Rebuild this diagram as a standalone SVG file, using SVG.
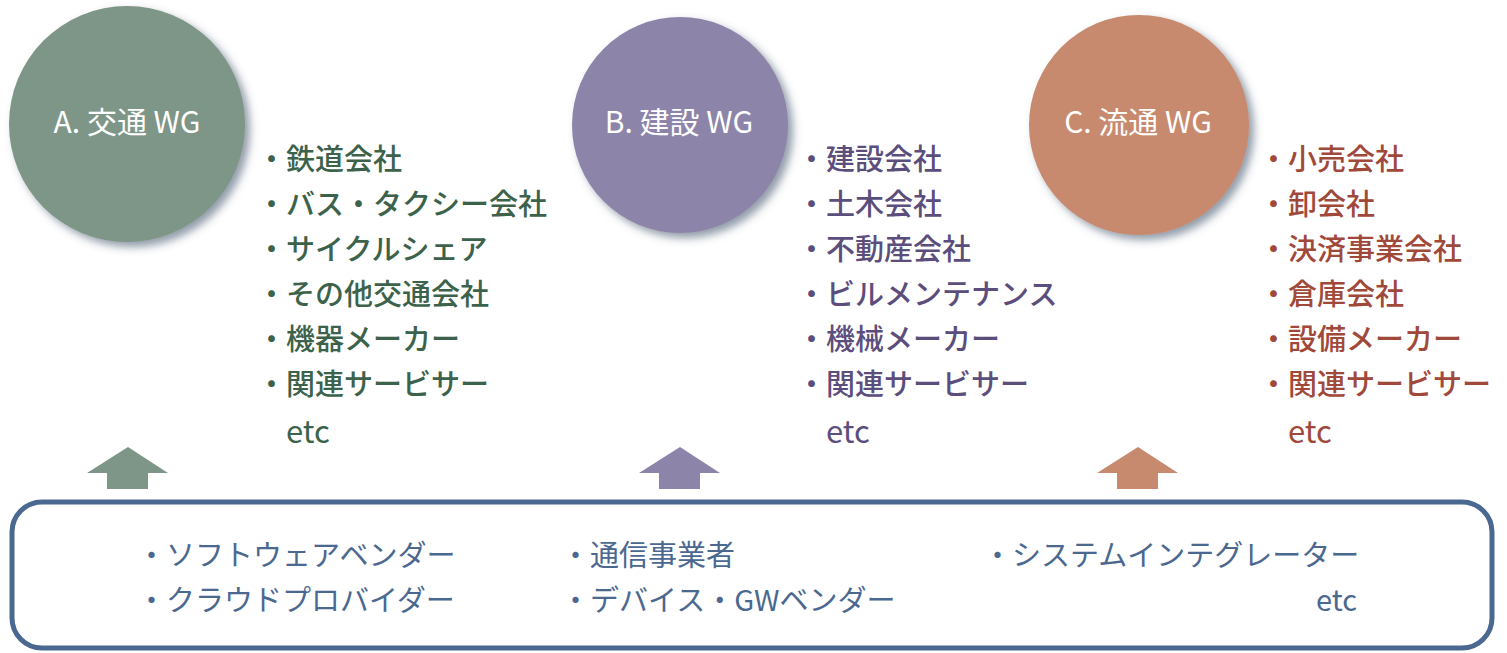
<svg xmlns="http://www.w3.org/2000/svg" width="1507" height="653" viewBox="0 0 1507 653">
  <defs>
    <filter id="shadow" x="-20%" y="-20%" width="150%" height="150%">
      <feDropShadow dx="5" dy="5" stdDeviation="4" flood-color="#4a5a70" flood-opacity="0.6"/>
    </filter>
  </defs>
  <style>
    text { font-family: "Noto Sans CJK JP", "Noto Sans", sans-serif; }
    .wg { font-size: 30px; fill: #ffffff; text-anchor: middle; }
    .list { font-size: 29px; font-weight: 500; }
    .etc { font-size: 31px; font-weight: 400; }
    .green { fill: #3c624b; }
    .purple { fill: #5c4e7c; }
    .orange { fill: #a0493a; }
    .blue { fill: #4a6890; font-size: 29px; }
  </style>
  <rect width="1507" height="653" fill="#ffffff"/>

  <g id="wg-a">
    <circle cx="127" cy="124" r="118" fill="#7e9687" filter="url(#shadow)"/>
    <text class="wg" x="127" y="133">A. 交通 WG</text>
  </g>
  <g id="list-a" class="list green">
    <text x="257" y="170">・鉄道会社</text>
    <text x="257" y="215">・バス・タクシー会社</text>
    <text x="257" y="260">・サイクルシェア</text>
    <text x="257" y="305">・その他交通会社</text>
    <text x="257" y="350">・機器メーカー</text>
    <text x="257" y="395">・関連サービサー</text>
    <text class="etc" x="286" y="443">etc</text>
  </g>

  <g id="wg-b">
    <circle cx="680" cy="125" r="108" fill="#8d84aa" filter="url(#shadow)"/>
    <text class="wg" x="679" y="133">B. 建設 WG</text>
  </g>
  <g id="list-b" class="list purple">
    <text x="797" y="170">・建設会社</text>
    <text x="797" y="215">・土木会社</text>
    <text x="797" y="260">・不動産会社</text>
    <text x="797" y="305">・ビルメンテナンス</text>
    <text x="797" y="350">・機械メーカー</text>
    <text x="797" y="395">・関連サービサー</text>
    <text class="etc" x="826" y="443">etc</text>
  </g>

  <g id="wg-c">
    <circle cx="1139" cy="125" r="110" fill="#c78a6e" filter="url(#shadow)"/>
    <text class="wg" x="1138" y="133">C. 流通 WG</text>
  </g>
  <g id="list-c" class="list orange">
    <text x="1259" y="170">・小売会社</text>
    <text x="1259" y="215">・卸会社</text>
    <text x="1259" y="260">・決済事業会社</text>
    <text x="1259" y="305">・倉庫会社</text>
    <text x="1259" y="350">・設備メーカー</text>
    <text x="1259" y="395">・関連サービサー</text>
    <text class="etc" x="1288" y="443">etc</text>
  </g>

  <g id="connectors">
    <polygon points="128,447 168,473 148,473 148,489 107,489 107,473 87,473" fill="#7e9687"/>
    <polygon points="680,447 720,473 700,473 700,489 659,489 659,473 639,473" fill="#8d84aa"/>
    <polygon points="1138,447 1178,473 1158,473 1158,489 1117,489 1117,473 1097,473" fill="#c78a6e"/>
  </g>

  <g id="platform">
    <rect x="12" y="502" width="1480" height="146" rx="30" ry="30" fill="#ffffff" stroke="#4a6890" stroke-width="5"/>
    <text class="blue" x="137" y="566">・ソフトウェアベンダー</text>
    <text class="blue" x="137" y="611">・クラウドプロバイダー</text>
    <text class="blue" x="561" y="566">・通信事業者</text>
    <text class="blue" x="561" y="611">・デバイス・GWベンダー</text>
    <text class="blue" x="983" y="566">・システムインテグレーター</text>
    <text class="blue" x="1357" y="611" text-anchor="end">etc</text>
  </g>
</svg>
